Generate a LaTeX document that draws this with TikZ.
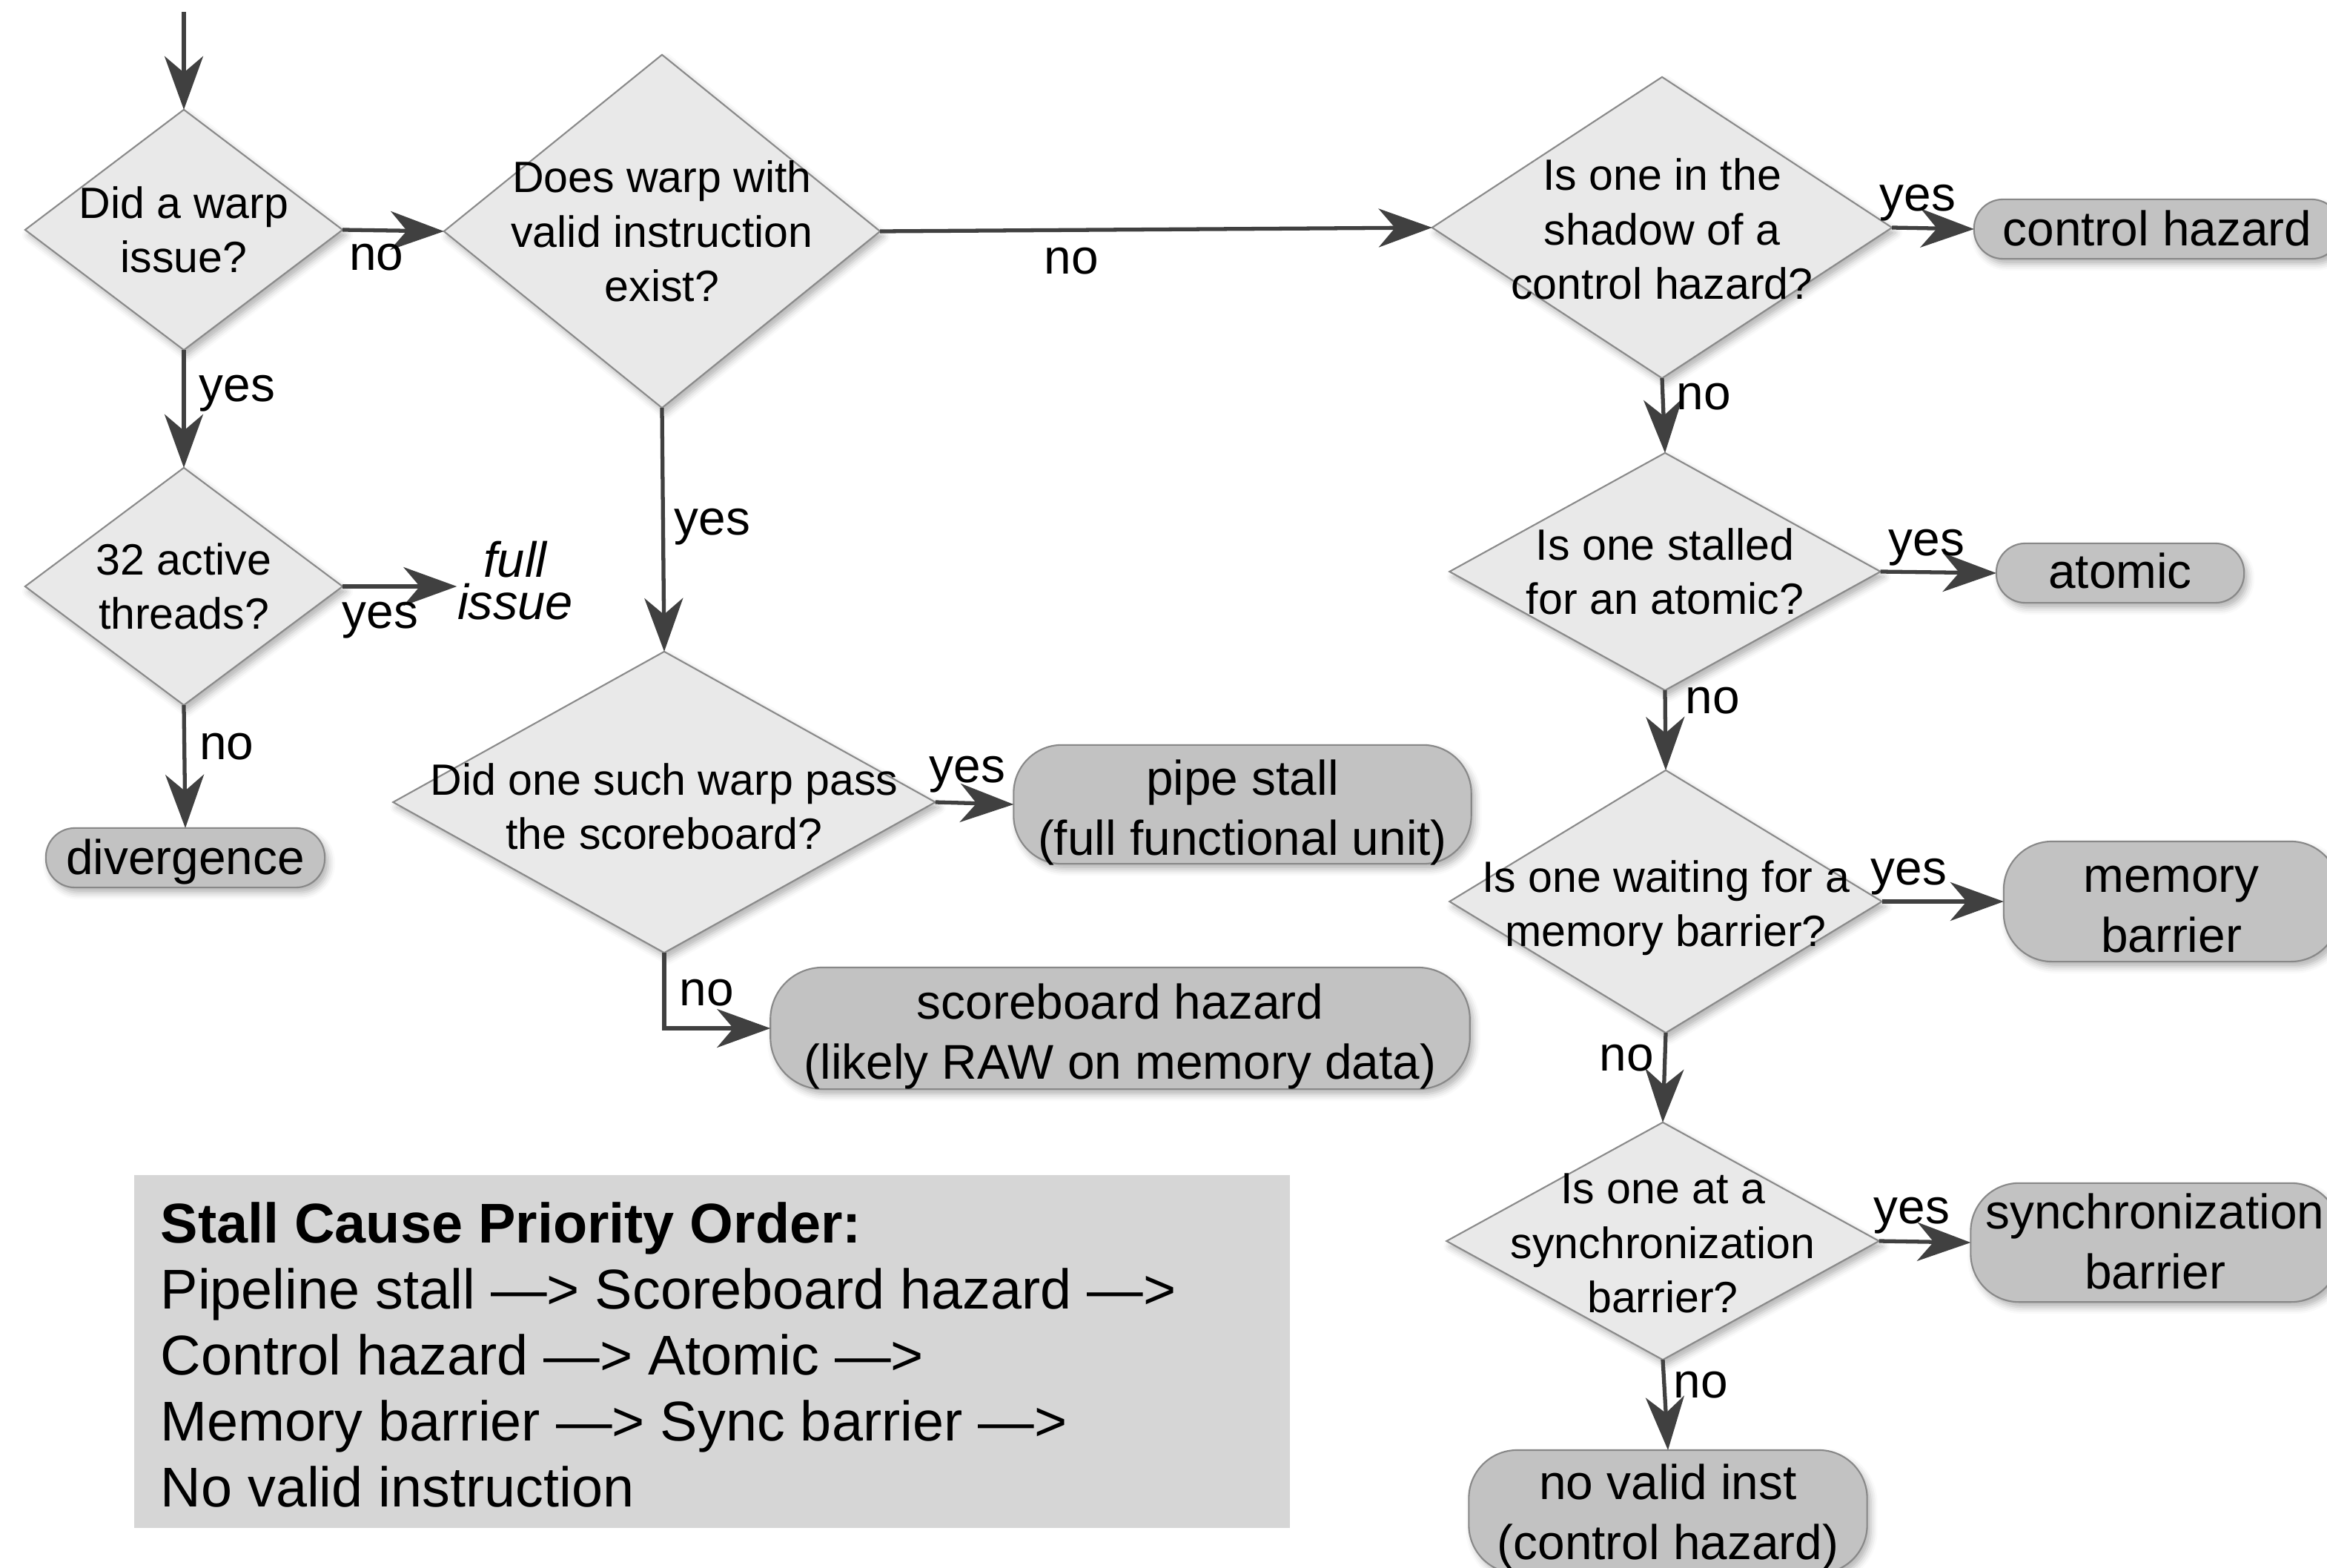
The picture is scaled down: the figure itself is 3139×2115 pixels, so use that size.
\documentclass[tikz,border=0pt]{standalone}
\usepackage{fontspec}
\setmainfont{Liberation Sans}
\usetikzlibrary{shapes.geometric,arrows.meta,shadows.blur}

\definecolor{decfill}{HTML}{E9E9E9}
\definecolor{decline}{HTML}{8A8A8A}
\definecolor{endfill}{HTML}{C2C2C2}
\definecolor{endline}{HTML}{888888}
\definecolor{arrowc}{HTML}{404040}
\definecolor{legendfill}{HTML}{D6D6D6}

% centred text block, lowered by #1 without changing its reported size
\newcommand\droptext[2]{\raisebox{-#1}[\height][\depth]{%
  \begin{tabular}{@{}c@{}}#2\end{tabular}}}

\tikzset{
  softshadow/.style={blur shadow={shadow xshift=0.05cm, shadow yshift=-0.07cm,
      shadow blur radius=0.09cm, shadow opacity=30}},
  decision/.style={diamond, draw=decline, fill=decfill, line width=0.6pt,
      inner sep=0pt, outer sep=0pt, softshadow},
  qtext/.style={align=center, inner sep=0pt, font=\fontsize{16.8}{20.8}\selectfont},
  outcome/.style={rectangle, rounded corners=#1, draw=endline, fill=endfill,
      line width=0.6pt, inner sep=0pt, outer sep=0pt,
      font=\fontsize{18.7}{22.8}\selectfont, softshadow},
  outcome/.default=0.39cm,
  lab/.style={inner sep=0pt, text height=0.52em, text depth=0pt, yshift=-0.05cm,
      font=\fontsize{18.7}{22}\selectfont},
  flow/.style={draw=arrowc, line width=1.5pt,
      -{Stealth[length=0.72cm, width=0.52cm, inset=0.22cm]}},
  legendtext/.style={align=left, inner sep=0pt, font=\fontsize{21.5}{25.3}\selectfont}
}

\begin{document}
\begin{tikzpicture}[x=0.01cm, y=0.01cm]
\useasboundingbox (0,0) rectangle (3139,-2115);

% decision diamonds
\node[decision, minimum width=4.28cm, minimum height=3.24cm] (d1) at (248,-310) {};
\node[decision, minimum width=5.88cm, minimum height=4.76cm] (d2) at (893,-312) {};
\node[decision, minimum width=6.20cm, minimum height=4.06cm] (d3) at (2242,-307) {};
\node[decision, minimum width=4.28cm, minimum height=3.20cm] (d4) at (248,-791) {};
\node[decision, minimum width=7.31cm, minimum height=4.06cm] (d5) at (896,-1082) {};
\node[decision, minimum width=5.81cm, minimum height=3.20cm] (d6) at (2246,-771) {};
\node[decision, minimum width=5.83cm, minimum height=3.54cm] (d7) at (2247,-1216) {};
\node[decision, minimum width=5.83cm, minimum height=3.20cm] (d8) at (2243,-1674) {};

\node[qtext] (q1) at (d1) {Did a warp\\issue?};
\node[qtext] (q2) at (d2) {Does warp with\\valid instruction\\exist?};
\node[qtext] (q3) at ([yshift=-0.02cm]d3) {Is one in the\\shadow of a\\control hazard?};
\node[qtext] (q4) at (d4) {32 active\\threads?};
\node[qtext] (q5) at ([yshift=-0.06cm]d5) {Did one such warp pass\\the scoreboard?};
\node[qtext] (q6) at (d6) {Is one stalled\\for an atomic?};
\node[qtext] (q7) at ([yshift=-0.09cm]d7) {Is one waiting for a\\memory barrier?};
\node[qtext] (q8) at ([yshift=-0.03cm]d8) {Is one at a\\synchronization\\barrier?};

% outcomes
\node[outcome, minimum width=4.94cm, minimum height=0.78cm] (ctrl) at (2910,-309) {\droptext{0.06cm}{control hazard}};
\node[outcome, minimum width=3.34cm, minimum height=0.80cm] (atom) at (2860,-773) {\droptext{0.04cm}{atomic}};
\node[outcome, minimum width=3.76cm, minimum height=0.80cm] (div) at (250,-1157) {\droptext{0.06cm}{divergence}};
\node[outcome=0.65cm, minimum width=6.17cm, minimum height=1.60cm] (pipe) at (1676,-1085) {\droptext{0.12cm}{pipe stall\\(full functional unit)}};
\node[outcome=0.70cm, minimum width=9.43cm, minimum height=1.64cm] (sb) at (1511,-1387) {\droptext{0.12cm}{scoreboard hazard\\(likely RAW on memory data)}};
\node[outcome=0.65cm, minimum width=4.52cm, minimum height=1.62cm] (mem) at (2929,-1216) {\droptext{0.12cm}{memory\\barrier}};
\node[outcome=0.65cm, minimum width=4.97cm, minimum height=1.60cm] (sync) at (2907,-1676) {\droptext{0.06cm}{synchronization\\barrier}};
\node[outcome=0.65cm, minimum width=5.37cm, minimum height=1.66cm] (nv) at (2250,-2039) {\droptext{0.08cm}{no valid inst\\(control hazard)}};

\node[inner sep=0pt, align=center, font=\fontsize{19}{16}\selectfont\itshape] (fi) at (695,-783) {full\\issue};

% legend
\node[fill=legendfill, inner sep=0pt, minimum width=15.58cm, minimum height=4.76cm, anchor=north west] (leg) at (180,-1584) {};
\node[legendtext, anchor=north west] (legtxt) at (216,-1621)
  {\textbf{Stall Cause Priority Order:}\\
   Pipeline stall —> Scoreboard hazard —>\\
   Control hazard —> Atomic —>\\
   Memory barrier —> Sync barrier —>\\
   No valid instruction};

% connectors
\coordinate (start) at (248,-16);
\draw[flow] (start) -- (d1.north);
\draw[flow] (d1.east) -- (d2.west);
\draw[flow] (d2.east) -- (d3.west);
\draw[flow] (d3.east) -- (ctrl.west);
\draw[flow] (d1.south) -- (d4.north);
\draw[flow] (d4.east) -- (d4.east -| fi.west);
\draw[flow] (d4.south) -- (div.north);
\draw[flow] (d2.south) -- (d5.north);
\draw[flow] (d5.east) -- (pipe.west);
\draw[flow] (d5.south) |- (sb.west);
\draw[flow] (d3.south) -- (d6.north);
\draw[flow] (d6.east) -- (atom.west);
\draw[flow] (d6.south) -- (d7.north);
\draw[flow] (d7.east) -- (mem.west);
\draw[flow] (d7.south) -- (d8.north);
\draw[flow] (d8.east) -- (sync.west);
\draw[flow] (d8.south) -- (nv.north);

% branch labels
\node[lab] (l1) at (508,-350) {no};
\node[lab] (l2) at (1445,-355) {no};
\node[lab] (l3) at (2587,-270) {yes};
\node[lab] (l4) at (320,-527) {yes};
\node[lab] (l5) at (513,-833) {yes};
\node[lab] (l6) at (306,-1010) {no};
\node[lab] (l7) at (961,-707) {yes};
\node[lab] (l8) at (1305,-1041) {yes};
\node[lab] (l9) at (953,-1342) {no};
\node[lab] (l10) at (2298,-538) {no};
\node[lab] (l11) at (2599,-735) {yes};
\node[lab] (l12) at (2310,-948) {no};
\node[lab] (l13) at (2575,-1179) {yes};
\node[lab] (l14) at (2194,-1430) {no};
\node[lab] (l15) at (2579,-1636) {yes};
\node[lab] (l16) at (2294,-1871) {no};
\end{tikzpicture}
\end{document}
